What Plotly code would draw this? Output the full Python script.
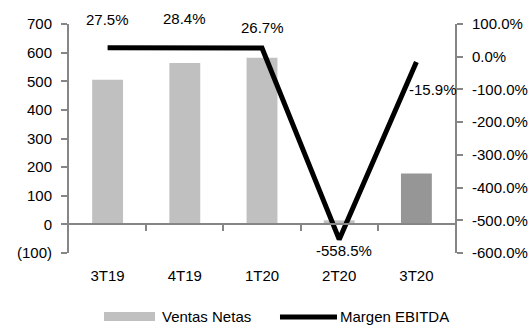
import plotly.graph_objects as go

# ---- data ----
categories = ["3T19", "4T19", "1T20", "2T20", "3T20"]
ventas_netas = [505, 564, 582, 14, 178]
margen_ebitda = [27.5, 28.4, 26.7, -558.5, -15.9]
margen_labels = ["27.5%", "28.4%", "26.7%", "-558.5%", "-15.9%"]
left_tickvals = [-100, 0, 100, 200, 300, 400, 500, 600, 700]
left_ticktext = ["(100)", "0", "100", "200", "300", "400", "500", "600", "700"]
right_tickvals = [-600, -500, -400, -300, -200, -100, 0, 100]
right_ticktext = ["-600.0%", "-500.0%", "-400.0%", "-300.0%", "-200.0%", "-100.0%", "0.0%", "100.0%"]
boundary_ticks = [0.5, 1.5, 2.5, 3.5]

# ---- styles ----
bar_colors = ["#C0C0C0", "#C0C0C0", "#C0C0C0", "#C0C0C0", "#969696"]
axis_color = "#868686"
FONT = "Liberation Sans, Arial, sans-serif"
label_shift = [(0, 28), (0, 29), (0, 20), (5, -11), (17, -28)]

fig = go.Figure()
fig.add_trace(go.Bar(x=categories, y=ventas_netas, marker=dict(color=bar_colors, line=dict(width=0)),
                     width=0.4, name="Ventas Netas", showlegend=False))
fig.add_trace(go.Scatter(x=categories, y=margen_ebitda, yaxis="y2", mode="lines",
                         line=dict(color="black", width=5), name="Margen EBITDA", showlegend=False))
# helper trace to carry the baseline axis
fig.add_trace(go.Scatter(x=[0], y=[0], xaxis="x2", mode="markers", marker=dict(opacity=0),
                         showlegend=False, hoverinfo="skip"))

for i, (c, v, t) in enumerate(zip(categories, margen_ebitda, margen_labels)):
    dx, dy = label_shift[i]
    fig.add_annotation(x=c, y=v, xref="x", yref="y2", text=t, showarrow=False,
                       xshift=dx, yshift=dy, font=dict(family=FONT, size=15, color="black"))

# custom legend
fig.add_shape(type="rect", xref="paper", yref="paper", x0=0.0907, x1=0.2228, y0=-0.2970, y1=-0.2577,
              fillcolor="#C0C0C0", line=dict(width=0))
fig.add_annotation(xref="paper", yref="paper", x=0.2358, y=-0.277, text="Ventas Netas", showarrow=False,
                   xanchor="left", yanchor="middle", font=dict(family=FONT, size=15, color="black"))
fig.add_shape(type="line", xref="paper", yref="paper", x0=0.5466, x1=0.6943, y0=-0.279, y1=-0.279,
              line=dict(color="black", width=5))
fig.add_annotation(xref="paper", yref="paper", x=0.6969, y=-0.277, text="Margen EBITDA", showarrow=False,
                   xanchor="left", yanchor="middle", font=dict(family=FONT, size=15, color="black"))

fig.update_layout(
    width=529, height=328,
    margin=dict(l=69, r=74, t=24, b=75, autoexpand=False),
    paper_bgcolor="white", plot_bgcolor="white",
    font=dict(family=FONT, size=15, color="black"),
    bargap=0.6,
    xaxis=dict(type="category", range=[-0.5, 4.5], showline=False, ticks="", showgrid=False,
               zeroline=False, ticklabelstandoff=12, automargin=False),
    xaxis2=dict(overlaying="x", anchor="free", position=0.125, range=[-0.5, 4.5],
                tickvals=boundary_ticks, ticks="outside", ticklen=6, tickwidth=2, tickcolor=axis_color,
                showline=True, linecolor=axis_color, linewidth=2, showticklabels=False,
                showgrid=False, zeroline=False, side="bottom", automargin=False),
    yaxis=dict(range=[-100, 700], tickvals=left_tickvals, ticktext=left_ticktext, showgrid=False,
               zeroline=False, showline=True, linecolor=axis_color, linewidth=2,
               ticks="outside", ticklen=6, tickwidth=2, tickcolor=axis_color, ticklabelstandoff=6,
               automargin=False),
    yaxis2=dict(range=[-600, 100], tickvals=right_tickvals, ticktext=right_ticktext, overlaying="y",
                side="right", anchor="x", showgrid=False, zeroline=False, showline=True,
                linecolor=axis_color, linewidth=2, ticks="outside", ticklen=6, tickwidth=2,
                tickcolor=axis_color, ticklabelstandoff=6, automargin=False),
    showlegend=False,
)

fig.write_html("out.html")
